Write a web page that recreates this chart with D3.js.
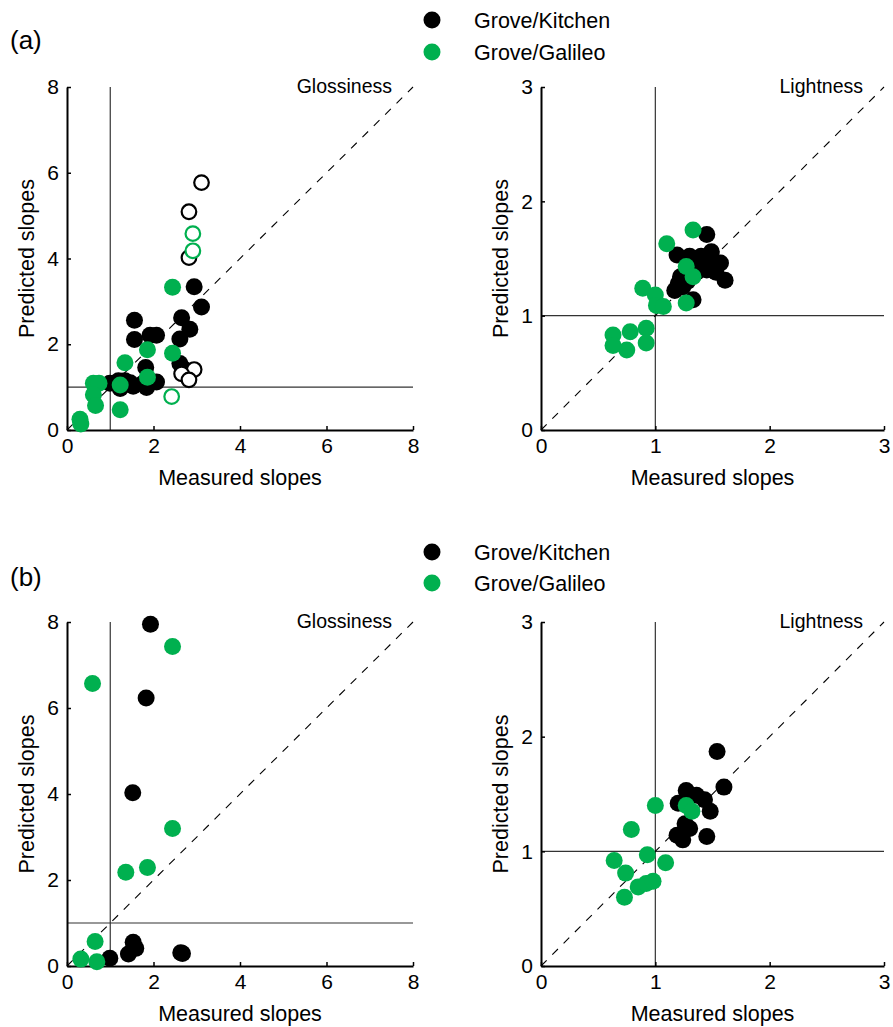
<!DOCTYPE html>
<html>
<head>
<meta charset="utf-8">
<script src="https://cdn.jsdelivr.net/npm/d3@7"></script>
<style>
  body { margin: 0; background: #fff; }
  svg { display: block; }
  text { font-family: "Liberation Sans", Arial, Helvetica, sans-serif; fill: #000; }
</style>
</head>
<body>
<svg id="chart" width="893" height="1027"></svg>
<script>
// ---------- DATA ----------
const seriesNames = ["Grove/Kitchen", "Grove/Galileo"];
const panelLabels = ["(a)", "(b)"];
const glossTicks = [0, 2, 4, 6, 8];
const lightTicks = [0, 1, 2, 3];

// (a) Glossiness
const aGlossKitchen = [[3.11,2.87],[2.94,3.34],[2.65,2.62],[2.84,2.35],[2.61,2.12],[1.56,2.56],[1.56,2.11],[1.92,2.21],[2.07,2.21],[1.82,1.46],[2.61,1.55],[2.68,1.44],[2.07,1.12],[0.99,1.09],[1.19,1.15],[1.23,0.97],[1.46,1.10],[1.53,1.02],[1.76,1.09],[1.84,0.99],[1.34,1.15]];
const aGlossKitchenOpen = [[3.11,5.77],[2.82,5.09],[2.82,4.02],[2.94,1.41],[2.65,1.31],[2.82,1.17]];
const aGlossGalileo = [[2.44,3.33],[2.44,1.79],[1.86,1.87],[1.86,1.23],[1.34,1.57],[1.23,1.05],[1.23,0.47],[0.61,1.09],[0.74,1.09],[0.61,0.82],[0.66,0.57],[0.30,0.25],[0.32,0.14]];
const aGlossGalileoOpen = [[2.91,4.58],[2.91,4.18],[2.42,0.78]];
// (a) Lightness
const aLightKitchen = [[1.45,1.71],[1.19,1.53],[1.30,1.52],[1.49,1.56],[1.57,1.46],[1.61,1.31],[1.45,1.40],[1.22,1.34],[1.17,1.22],[1.33,1.14],[1.24,1.25],[1.38,1.45],[1.53,1.38],[1.40,1.52],[1.28,1.30],[1.20,1.28],[1.52,1.47],[1.36,1.38]];
const aLightGalileo = [[1.33,1.75],[1.10,1.63],[1.27,1.43],[1.33,1.34],[1.27,1.11],[0.89,1.24],[1.00,1.18],[1.01,1.09],[1.07,1.08],[0.92,0.89],[0.92,0.76],[0.78,0.86],[0.75,0.70],[0.63,0.83],[0.63,0.74]];
// (b) Glossiness
const bGlossKitchen = [[1.93,7.95],[1.83,6.23],[1.52,4.03],[2.63,0.31],[2.67,0.29],[1.53,0.55],[1.59,0.41],[1.42,0.28],[0.99,0.18]];
const bGlossGalileo = [[2.44,7.43],[0.59,6.57],[2.44,3.20],[1.36,2.18],[1.86,2.29],[0.65,0.57],[0.32,0.16],[0.69,0.10]];
// (b) Lightness
const bLightKitchen = [[1.54,1.87],[1.60,1.56],[1.27,1.53],[1.36,1.49],[1.43,1.45],[1.20,1.42],[1.48,1.35],[1.26,1.24],[1.30,1.20],[1.19,1.14],[1.24,1.10],[1.45,1.13]];
const bLightGalileo = [[1.27,1.40],[1.32,1.35],[1.00,1.40],[0.79,1.19],[0.93,0.97],[1.09,0.90],[0.64,0.92],[0.74,0.81],[0.73,0.60],[0.85,0.69],[0.92,0.72],[0.98,0.74]];

// ---------- STYLE / LAYOUT ----------
const colors = ["#000000", "#00b04f"];
const R = 8.5;
const svg = d3.select("#chart");

const panels = [
  {title:"Glossiness", max:8, ticks:glossTicks, x0:67, x1:413, y0:430, y1:87,
   k:aGlossKitchen, g:aGlossGalileo, kOpen:aGlossKitchenOpen, gOpen:aGlossGalileoOpen},
  {title:"Lightness", max:3, ticks:lightTicks, x0:541, x1:884, y0:430, y1:87,
   k:aLightKitchen, g:aLightGalileo, kOpen:[], gOpen:[]},
  {title:"Glossiness", max:8, ticks:glossTicks, x0:67, x1:413, y0:966, y1:622,
   k:bGlossKitchen, g:bGlossGalileo, kOpen:[], gOpen:[]},
  {title:"Lightness", max:3, ticks:lightTicks, x0:541, x1:884, y0:966, y1:622,
   k:bLightKitchen, g:bLightGalileo, kOpen:[], gOpen:[]}
];

panels.forEach(p => {
  const x = d3.scaleLinear().domain([0, p.max]).range([p.x0, p.x1]);
  const y = d3.scaleLinear().domain([0, p.max]).range([p.y0, p.y1]);
  const g = svg.append("g");

  // reference lines x=1, y=1
  g.append("line").attr("x1", x(1)).attr("x2", x(1)).attr("y1", y(0)).attr("y2", y(p.max))
    .attr("stroke", "#333").attr("stroke-width", 1.2);
  g.append("line").attr("x1", x(0)).attr("x2", x(p.max)).attr("y1", y(1)).attr("y2", y(1))
    .attr("stroke", "#333").attr("stroke-width", 1.2);
  // diagonal
  g.append("line").attr("x1", x(0)).attr("y1", y(0)).attr("x2", x(p.max)).attr("y2", y(p.max))
    .attr("stroke", "#000").attr("stroke-width", 1.1).attr("stroke-dasharray", "8,8");

  // axes
  const xa = g.append("g").attr("transform", `translate(0,${p.y0})`)
    .call(d3.axisBottom(x).tickValues(p.ticks).tickSizeInner(-4).tickSizeOuter(0).tickPadding(8).tickFormat(d3.format("d")));
  const ya = g.append("g").attr("transform", `translate(${p.x0},0)`)
    .call(d3.axisLeft(y).tickValues(p.ticks).tickSizeInner(-4).tickSizeOuter(0).tickPadding(8).tickFormat(d3.format("d")));
  [xa, ya].forEach(a => {
    a.select(".domain").attr("stroke", "#000").attr("stroke-width", 2);
    a.selectAll(".tick line").attr("stroke", "#000").attr("stroke-width", 1.5);
    a.selectAll(".tick text").attr("font-size", 21).attr("font-family", "Liberation Sans, Arial, sans-serif");
  });

  // axis labels
  g.append("text").attr("x", (p.x0 + p.x1) / 2).attr("y", p.y0 + 55)
    .attr("text-anchor", "middle").attr("font-size", 21.5).text("Measured slopes");
  g.append("text").attr("transform", `translate(${p.x0 - 33},${(p.y0 + p.y1) / 2}) rotate(-90)`)
    .attr("text-anchor", "middle").attr("font-size", 21.5).text("Predicted slopes");
  // title
  g.append("text").attr("x", p.x1 - 21).attr("y", p.y1 + 6)
    .attr("text-anchor", "end").attr("font-size", 19.5).text(p.title);

  // points: kitchen then galileo
  g.selectAll(".kf").data(p.k).join("circle")
    .attr("cx", d => x(d[0])).attr("cy", d => y(d[1])).attr("r", R).attr("fill", colors[0]);
  g.selectAll(".ko").data(p.kOpen).join("circle")
    .attr("cx", d => x(d[0])).attr("cy", d => y(d[1])).attr("r", R - 1.2)
    .attr("fill", "#fff").attr("stroke", colors[0]).attr("stroke-width", 2.2);
  g.selectAll(".gf").data(p.g).join("circle")
    .attr("cx", d => x(d[0])).attr("cy", d => y(d[1])).attr("r", R).attr("fill", colors[1]);
  g.selectAll(".go").data(p.gOpen).join("circle")
    .attr("cx", d => x(d[0])).attr("cy", d => y(d[1])).attr("r", R - 1.2)
    .attr("fill", "#fff").attr("stroke", colors[1]).attr("stroke-width", 2.2);
});

// panel labels and legends
const legendY = [[20, 52], [552, 583]];
const panelLabelY = [40, 577];
panelLabels.forEach((lab, i) => {
  svg.append("text").attr("x", 10).attr("y", panelLabelY[i] + 9).attr("font-size", 26).text(lab);
  seriesNames.forEach((name, j) => {
    svg.append("circle").attr("cx", 432).attr("cy", legendY[i][j]).attr("r", 8.5).attr("fill", colors[j]);
    svg.append("text").attr("x", 474).attr("y", legendY[i][j] + 7.5).attr("font-size", 21.5).text(name);
  });
});
</script>
</body>
</html>
